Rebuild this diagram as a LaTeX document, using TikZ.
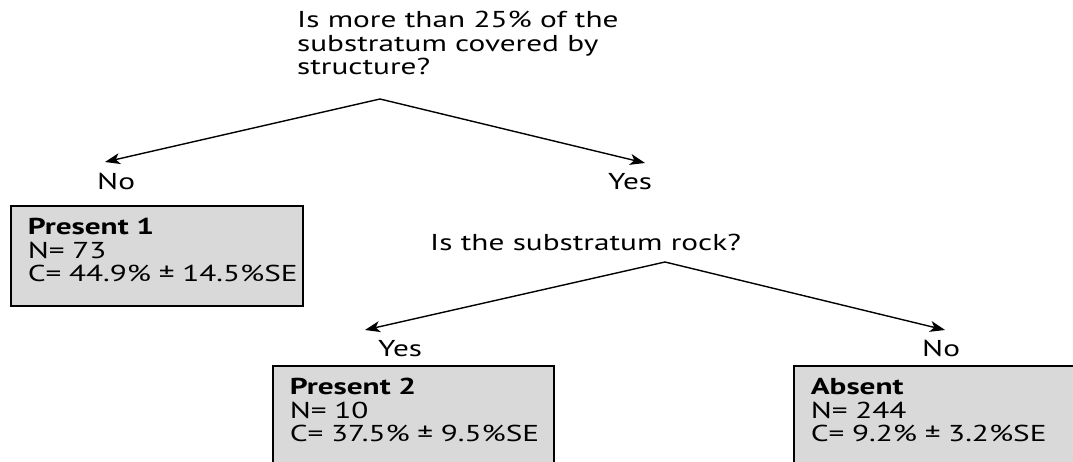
\documentclass[tikz,border=0pt]{standalone}
\usepackage{fontspec}
\setmainfont{PT Sans}[FakeStretch=1.36]
\usetikzlibrary{arrows.meta}
\definecolor{boxgray}{RGB}{217,217,217}
\begin{document}
\begin{tikzpicture}[x=1pt,y=1pt,
  every node/.style={font=\fontsize{23}{23.5}\selectfont, inner sep=0pt},
  lbl/.style={anchor=base west},
  leaf/.style={draw=black, line width=1.6pt, fill=boxgray, anchor=north west, align=left,
     inner xsep=17pt, inner ysep=8pt, text height=21pt},
  arr/.style={line width=1.4pt, -{Stealth[length=15pt,width=11pt,inset=4pt]}}
]
\useasboundingbox (0,0) rectangle (1073,461);
\clip (0,0) rectangle (1073,461);
% questions
\node[lbl, align=left] (q1) at (297,386) {Is more than 25\% of the\\substratum covered by\\structure?};
\node[lbl] (q2) at (430,211) {Is the substratum rock?};
% labels
\node[lbl] (no1) at (97,271) {No};
\node[lbl] (yes1) at (608,271) {Yes};
\node[lbl] (yes2) at (378,105) {Yes};
\node[lbl] (no2) at (922,105) {No};
% leaves
\node[leaf, text width=258pt, text depth=63pt] (p1) at (10,256) {\textbf{Present~1}\\N=~73\\C=~44.9\%~±~14.5\%SE};
\node[leaf, text width=247pt, text depth=120pt] (p2) at (272,96) {\textbf{Present~2}\\N=~10\\C=~37.5\%~±~9.5\%SE};
\node[leaf, text width=300pt, text depth=120pt] (ab) at (793,96) {\textbf{Absent}\\N=~244\\C=~9.2\%~±~3.2\%SE};
% connectors
\coordinate (a1) at (380,362);
\coordinate (t1) at (105,299);
\coordinate (t2) at (645,298);
\coordinate (a2) at (665,199);
\coordinate (t3) at (365,131);
\coordinate (t4) at (945,131);
\draw[arr] (a1) -- (t1);
\draw[arr] (a1) -- (t2);
\draw[arr] (a2) -- (t3);
\draw[arr] (a2) -- (t4);
\end{tikzpicture}
\end{document}
